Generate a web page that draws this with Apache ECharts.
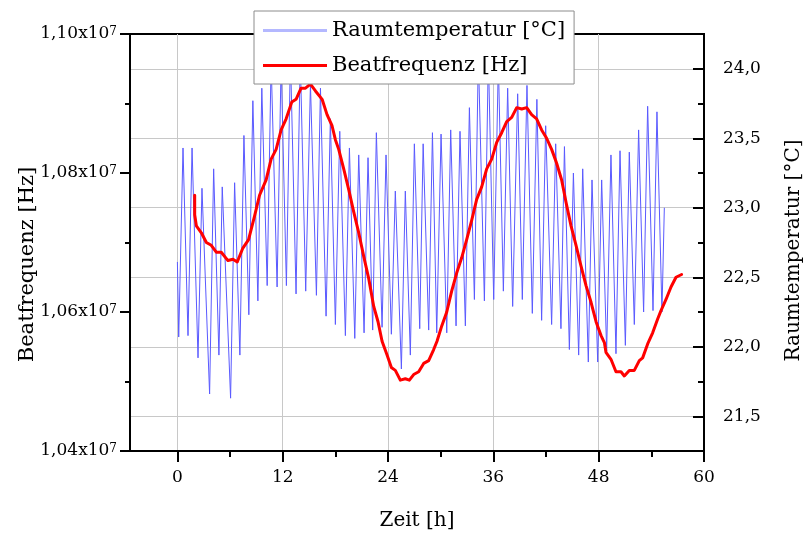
<!DOCTYPE html>
<html>
<head>
<meta charset="utf-8">
<script src="https://cdn.jsdelivr.net/npm/echarts@6/dist/echarts.min.js"></script>
<style>
  html, body { margin: 0; padding: 0; background: #fff; }
  #chart { width: 808px; height: 541px; }
</style>
</head>
<body>
<div id="chart"></div>
<script>
// Room temperature: turning points (time in h, temperature in °C)
const tempHours = [0.00,0.15,0.64,1.21,1.67,2.35,2.80,3.67,4.13,4.73,5.11,6.06,6.52,7.12,7.58,8.14,8.60,9.17,9.62,10.23,
  10.68,11.36,11.82,12.42,12.88,13.52,14.00,14.62,15.16,15.84,16.30,16.94,17.43,18.00,18.50,19.14,19.60,20.21,20.66,21.27,
  21.72,22.25,22.67,23.32,23.77,24.38,24.83,25.52,25.97,26.54,27.00,27.61,28.00,28.63,29.06,29.55,30.04,30.69,31.14,31.75,
  32.20,32.81,33.27,33.84,34.29,34.98,35.43,36.04,36.57,37.14,37.63,38.20,38.77,39.30,39.83,40.44,40.96,41.50,41.96,42.64,
  43.10,43.70,44.10,44.66,45.12,45.72,46.18,46.82,47.24,47.89,48.34,48.91,49.40,49.97,50.43,51.04,51.49,52.06,52.55,53.12,
  53.58,54.19,54.64,55.21,55.48];
const tempValues = [22.61,22.07,23.43,22.08,23.43,21.92,23.14,21.66,23.28,21.94,
  23.15,21.63,23.18,21.94,23.52,22.23,23.77,22.33,23.86,22.44,
  24.05,22.43,24.05,22.44,24.10,22.38,24.08,22.40,23.89,22.37,
  23.86,22.22,23.64,22.16,23.55,22.08,23.43,22.06,23.38,22.10,
  23.36,22.12,23.54,22.14,23.38,22.09,23.12,21.84,23.12,21.94,
  23.46,22.13,23.46,22.12,23.54,22.10,23.53,22.10,23.56,22.15,
  23.55,22.15,23.72,22.34,24.10,22.33,24.10,22.34,24.05,22.40,
  23.86,22.29,23.82,22.34,23.88,22.24,23.78,22.19,23.59,22.16,
  23.46,22.13,23.44,21.98,23.25,21.94,23.28,21.89,23.20,21.89,
  23.20,21.97,23.38,21.95,23.41,22.01,23.40,22.16,23.56,22.25,
  23.73,22.26,23.69,22.25,23.00];

// Beat frequency (time in h, frequency in Hz)
const beatHours = [1.97,1.97,2.16,2.73,3.30,3.86,4.43,5.00,5.76,6.33,
  6.82,7.46,8.11,8.79,9.36,10.11,10.68,11.25,11.82,12.39,
  13.03,13.52,14.09,14.59,15.16,15.73,16.49,17.05,17.62,18.00,
  18.38,18.95,19.52,20.09,20.66,21.23,21.80,22.37,22.86,23.32,
  23.89,24.38,24.83,25.40,25.97,26.43,26.92,27.49,28.06,28.63,
  29.20,29.58,30.12,30.69,31.25,31.82,32.39,32.96,33.53,34.10,
  34.67,35.24,35.81,36.38,36.95,37.52,38.09,38.66,39.23,39.80,
  40.36,40.93,41.50,42.07,42.64,43.21,43.78,44.28,44.85,45.42,
  45.99,46.56,47.13,47.70,48.27,48.65,48.83,49.40,49.97,50.54,
  50.92,51.49,52.06,52.63,53.01,53.58,54.15,54.72,55.10,55.67,
  56.24,56.81,57.45];
const beatHz = [10768000,10740000,10724000,10714000,10700000,10696000,10686000,10686000,10674000,10676000,
  10672000,10692000,10704000,10738000,10768000,10790000,10820000,10834000,10862000,10878000,
  10902000,10906000,10922000,10922000,10928000,10918000,10906000,10884000,10868000,10848000,
  10834000,10806000,10776000,10744000,10714000,10680000,10648000,10608000,10586000,10558000,
  10538000,10520000,10516000,10502000,10504000,10502000,10510000,10514000,10526000,10530000,
  10546000,10558000,10580000,10600000,10630000,10656000,10678000,10704000,10732000,10762000,
  10780000,10806000,10820000,10844000,10858000,10874000,10880000,10894000,10892000,10894000,
  10884000,10878000,10862000,10850000,10834000,10814000,10790000,10758000,10724000,10696000,
  10666000,10638000,10614000,10586000,10566000,10556000,10542000,10532000,10514000,10514000,
  10508000,10516000,10516000,10530000,10534000,10554000,10570000,10590000,10602000,10618000,
  10636000,10650000,10654000];

// Axis ticks
const timeTicks = [0, 12, 24, 36, 48, 60];
const timeMinorTicks = [6, 18, 30, 42, 54];
const tempTicks = [21.5, 22.0, 22.5, 23.0, 23.5, 24.0];

const FONT = 'DejaVu Serif';
const pair = (xs, ys) => xs.map((x, i) => [x, ys[i]]);

const chart = echarts.init(document.getElementById('chart'), null, { renderer: 'canvas' });
chart.setOption({
  animation: false,
  backgroundColor: '#fff',
  textStyle: { fontFamily: FONT, color: '#000' },
  grid: {
    left: 130, top: 34, width: 574, height: 417, outerBoundsMode: 'none', containLabel: false,
    show: true, borderColor: '#000', borderWidth: 2, backgroundColor: 'transparent'
  },
  legend: {
    orient: 'vertical', left: 254, top: 11,
    backgroundColor: '#fff', borderColor: '#8c8c8c', borderWidth: 1, borderRadius: 0,
    padding: [9, 9, 8, 9], itemWidth: 64, itemHeight: 3, itemGap: 14,
    icon: 'rect', selectedMode: false,
    textStyle: { fontFamily: FONT, fontSize: 21, color: '#000' },
    data: [
      { name: 'Raumtemperatur [°C]', itemStyle: { color: '#b4b8ff' } },
      { name: 'Beatfrequenz [Hz]', itemStyle: { color: '#ff0000' } }
    ]
  },
  xAxis: [
    {
      type: 'value', min: -5.4, max: 60, position: 'bottom',
      name: 'Zeit [h]', nameLocation: 'middle', nameGap: 60, nameMoveOverlap: false,
      nameTextStyle: { fontFamily: FONT, fontSize: 20, color: '#000' },
      axisLine: { show: true, onZero: false, lineStyle: { color: '#000', width: 2 } },
      axisTick: { show: true, customValues: timeTicks, length: 11, lineStyle: { color: '#000', width: 2 } },
      axisLabel: { customValues: timeTicks, fontFamily: FONT, fontSize: 17, color: '#000', margin: 18 },
      splitLine: { show: true, lineStyle: { color: '#c8c8c8', width: 1 } }
    },
    {
      type: 'value', min: -5.4, max: 60, position: 'bottom',
      axisLine: { show: false, onZero: false },
      axisTick: { show: true, customValues: timeMinorTicks, length: 6, lineStyle: { color: '#000', width: 2 } },
      axisLabel: { show: false },
      splitLine: { show: false }
    }
  ],
  yAxis: [
    {
      type: 'value', min: 10400000, max: 11000000, interval: 200000, position: 'left',
      name: 'Beatfrequenz [Hz]', nameLocation: 'middle', nameGap: 92, nameRotate: 90, nameMoveOverlap: false,
      nameTextStyle: { fontFamily: FONT, fontSize: 21, color: '#000', padding: [0, 44, 0, 0] },
      axisLine: { show: true, onZero: false, lineStyle: { color: '#000', width: 2 } },
      axisTick: { show: true, length: 10, lineStyle: { color: '#000', width: 2 } },
      minorTick: { show: true, splitNumber: 2, length: 5, lineStyle: { color: '#000', width: 2 } },
      axisLabel: {
        margin: 13, fontFamily: FONT, fontSize: 17, color: '#000',
        formatter: v => (v / 1e7).toFixed(2).replace('.', ',') + 'x10{sup|7}',
        rich: { sup: { fontFamily: FONT, fontSize: 12, verticalAlign: 'top', lineHeight: 12, color: '#000' } }
      },
      splitLine: { show: false }
    },
    {
      type: 'value', min: 21.25, max: 24.25, position: 'right',
      name: 'Raumtemperatur [°C]', nameLocation: 'middle', nameGap: 80, nameRotate: 90, nameMoveOverlap: false,
      nameTextStyle: { fontFamily: FONT, fontSize: 20, color: '#000', padding: [0, 16, 0, 0] },
      axisLine: { show: true, onZero: false, lineStyle: { color: '#000', width: 2 } },
      axisTick: { show: true, inside: true, customValues: tempTicks, length: 11, lineStyle: { color: '#000', width: 2 } },
      axisLabel: { customValues: tempTicks, margin: 19, fontFamily: FONT, fontSize: 17, color: '#000',
        formatter: v => v.toFixed(1).replace('.', ',') },
      splitLine: { show: true, lineStyle: { color: '#c8c8c8', width: 1 } }
    },
    {
      type: 'value', min: 21.25, max: 24.25, interval: 0.25, position: 'right',
      axisLine: { show: false, onZero: false },
      axisTick: { show: true, inside: true, length: 6, lineStyle: { color: '#000', width: 2 } },
      axisLabel: { show: false },
      splitLine: { show: false }
    }
  ],
  series: [
    {
      name: 'Raumtemperatur [°C]', type: 'line', xAxisIndex: 0, yAxisIndex: 1,
      data: pair(tempHours, tempValues), symbol: 'none', smooth: false,
      lineStyle: { color: '#5a5aff', width: 1 }, itemStyle: { color: '#5a5aff' }, z: 2
    },
    {
      name: 'Beatfrequenz [Hz]', type: 'line', xAxisIndex: 0, yAxisIndex: 0,
      data: pair(beatHours, beatHz), symbol: 'none', smooth: false,
      lineStyle: { color: '#ff0000', width: 3, join: 'round', cap: 'round' }, itemStyle: { color: '#ff0000' }, z: 3
    }
  ]
});
</script>
</body>
</html>
